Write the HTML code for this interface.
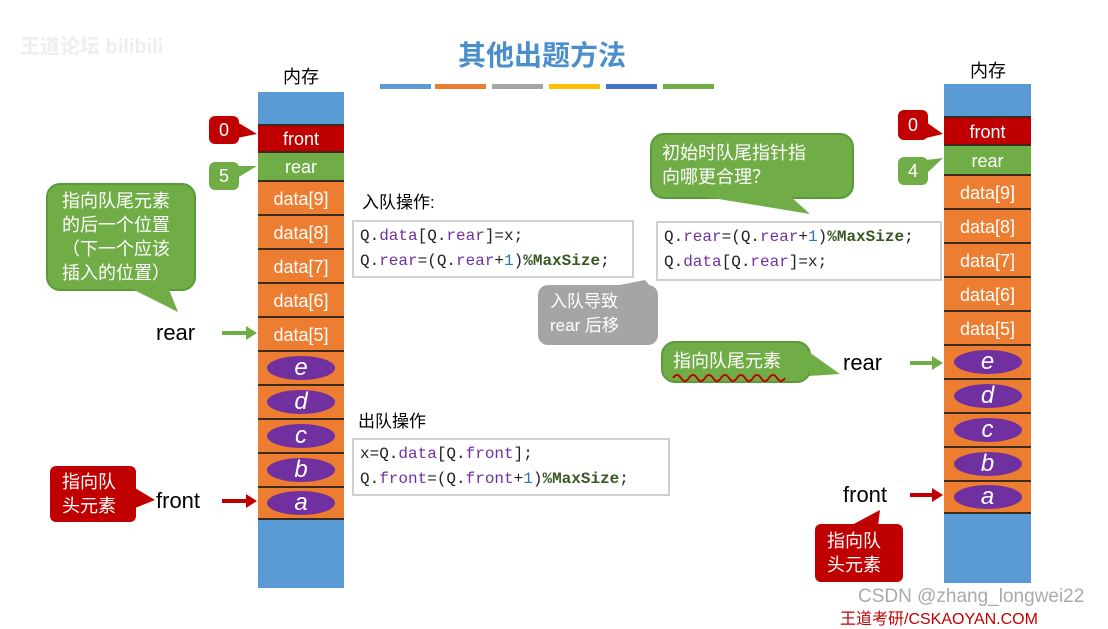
<!DOCTYPE html>
<html><head><meta charset="utf-8"><style>
body{margin:0;width:1108px;height:618px;background:#fff;position:relative;overflow:hidden;font-family:"Liberation Sans","Noto Sans CJK SC",sans-serif}
.a{position:absolute}
.c{position:absolute;box-sizing:border-box;border-bottom:2px solid #3a2a20;color:#fff;font-size:18px;text-align:center}
.bl{background:#5b9bd5}.fr{background:#c00000}.rr{background:#70ad47}.or{background:#ed7d31}
.el{position:absolute;left:50%;top:50%;width:68px;height:24px;margin:-12px 0 0 -34px;border-radius:50%;background:#7030a0;color:#fff;font-style:italic;font-size:24px;line-height:24px}
.code{position:absolute;border:2px solid #d0d0d0;background:#fff;font-family:"Liberation Mono",monospace;font-size:16px;line-height:25px;padding:2px 6px;color:#222;white-space:pre}
.p{color:#7030a0}.b{color:#2e75b6}.g{color:#385723;font-weight:bold}
.gb{position:absolute;background:#70ad47;border:2px solid #5a9a3a;border-radius:14px;color:#fff;font-size:18px;line-height:24px}
.tag{position:absolute;border-radius:6px;color:#fff;font-size:18px;text-align:center}
</style></head><body>
<div class="a" style="left:20px;top:30px;color:#eee;font-size:20px;font-weight:bold">王道论坛 bilibili</div>
<div class="a" style="left:458px;top:34px;color:#4a8fcc;font-size:28px;font-weight:bold">其他出题方法</div>
<div class="a" style="left:380px;top:84px;width:51px;height:5px;background:#5b9bd5"></div>
<div class="a" style="left:435px;top:84px;width:51px;height:5px;background:#ed7d31"></div>
<div class="a" style="left:492px;top:84px;width:51px;height:5px;background:#a5a5a5"></div>
<div class="a" style="left:549px;top:84px;width:51px;height:5px;background:#ffc000"></div>
<div class="a" style="left:606px;top:84px;width:51px;height:5px;background:#4472c4"></div>
<div class="a" style="left:663px;top:84px;width:51px;height:5px;background:#70ad47"></div>

<!-- left column -->
<div class="a" style="left:283px;top:63px;font-size:18px">内存</div>
<div class="c bl" style="left:258px;top:92px;width:86px;height:34px"></div>
<div class="c fr" style="left:258px;top:126px;width:86px;height:27px;line-height:27px">front</div>
<div class="c rr" style="left:258px;top:153px;width:86px;height:29px;line-height:29px">rear</div>
<div class="c or" style="left:258px;top:182px;width:86px;height:34px;line-height:34px">data[9]</div>
<div class="c or" style="left:258px;top:216px;width:86px;height:34px;line-height:34px">data[8]</div>
<div class="c or" style="left:258px;top:250px;width:86px;height:34px;line-height:34px">data[7]</div>
<div class="c or" style="left:258px;top:284px;width:86px;height:34px;line-height:34px">data[6]</div>
<div class="c or" style="left:258px;top:318px;width:86px;height:34px;line-height:34px">data[5]</div>
<div class="c or" style="left:258px;top:352px;width:86px;height:34px"><div class="el">e</div></div>
<div class="c or" style="left:258px;top:386px;width:86px;height:34px"><div class="el">d</div></div>
<div class="c or" style="left:258px;top:420px;width:86px;height:34px"><div class="el">c</div></div>
<div class="c or" style="left:258px;top:454px;width:86px;height:34px"><div class="el">b</div></div>
<div class="c or" style="left:258px;top:488px;width:86px;height:32px"><div class="el">a</div></div>
<div class="c bl" style="left:258px;top:520px;width:86px;height:68px;border:none"></div>
<div class="tag" style="left:209px;top:116px;width:30px;height:28px;line-height:28px;background:#c00000">0</div>
<div class="tag" style="left:209px;top:162px;width:30px;height:28px;line-height:28px;background:#70ad47">5</div>
<div class="gb" style="left:46px;top:183px;width:150px;height:108px;padding:4px 0 0 14px;box-sizing:border-box">指向队尾元素<br>的后一个位置<br>（下一个应该<br>插入的位置）</div>
<div class="a" style="left:156px;top:320px;font-size:22px">rear</div>
<div class="tag" style="left:50px;top:466px;width:86px;height:56px;background:#c00000;line-height:24px;padding-top:4px;box-sizing:border-box;text-align:left;padding-left:12px">指向队<br>头元素</div>
<div class="a" style="left:156px;top:488px;font-size:22px">front</div>

<div class="a" style="left:362px;top:188px;font-size:17px">入队操作:</div>
<div class="code" style="left:352px;top:220px;width:266px;height:50px"><span>Q.</span><span class="p">data</span>[Q.<span class="p">rear</span>]=x;
Q.<span class="p">rear</span>=(Q.<span class="p">rear</span>+<span class="b">1</span>)<span class="g">%MaxSize</span>;</div>
<div class="a" style="left:358px;top:407px;font-size:17px">出队操作</div>
<div class="code" style="left:352px;top:438px;width:302px;height:50px">x=Q.<span class="p">data</span>[Q.<span class="p">front</span>];
Q.<span class="p">front</span>=(Q.<span class="p">front</span>+<span class="b">1</span>)<span class="g">%MaxSize</span>;</div>

<div class="gb" style="left:650px;top:133px;width:204px;height:66px;padding:6px 0 0 10px;box-sizing:border-box">初始时队尾指针指<br>向哪更合理？</div>
<div class="code" style="left:656px;top:221px;width:270px;height:52px">Q.<span class="p">rear</span>=(Q.<span class="p">rear</span>+<span class="b">1</span>)<span class="g">%MaxSize</span>;
Q.<span class="p">data</span>[Q.<span class="p">rear</span>]=x;</div>
<div class="a" style="left:538px;top:285px;width:120px;height:60px;background:#a5a5a5;border-radius:10px;color:#fff;font-size:17px;line-height:24px;padding:5px 0 0 12px;box-sizing:border-box">入队导致<br>rear 后移</div>
<div class="gb" style="left:661px;top:341px;width:150px;height:42px;padding:6px 0 0 10px;box-sizing:border-box">指向队尾元素</div>
<div class="a" style="left:843px;top:350px;font-size:22px">rear</div>
<div class="a" style="left:843px;top:482px;font-size:22px">front</div>
<div class="tag" style="left:815px;top:524px;width:88px;height:58px;background:#c00000;line-height:24px;padding:5px 0 0 12px;box-sizing:border-box;text-align:left">指向队<br>头元素</div>

<!-- right column -->
<div class="a" style="left:970px;top:57px;font-size:18px">内存</div>
<div class="c bl" style="left:944px;top:84px;width:87px;height:34px"></div>
<div class="c fr" style="left:944px;top:118px;width:87px;height:28px;line-height:28px">front</div>
<div class="c rr" style="left:944px;top:146px;width:87px;height:30px;line-height:30px">rear</div>
<div class="c or" style="left:944px;top:176px;width:87px;height:34px;line-height:34px">data[9]</div>
<div class="c or" style="left:944px;top:210px;width:87px;height:34px;line-height:34px">data[8]</div>
<div class="c or" style="left:944px;top:244px;width:87px;height:34px;line-height:34px">data[7]</div>
<div class="c or" style="left:944px;top:278px;width:87px;height:34px;line-height:34px">data[6]</div>
<div class="c or" style="left:944px;top:312px;width:87px;height:34px;line-height:34px">data[5]</div>
<div class="c or" style="left:944px;top:346px;width:87px;height:34px"><div class="el">e</div></div>
<div class="c or" style="left:944px;top:380px;width:87px;height:34px"><div class="el">d</div></div>
<div class="c or" style="left:944px;top:414px;width:87px;height:34px"><div class="el">c</div></div>
<div class="c or" style="left:944px;top:448px;width:87px;height:34px"><div class="el">b</div></div>
<div class="c or" style="left:944px;top:482px;width:87px;height:32px"><div class="el">a</div></div>
<div class="c bl" style="left:944px;top:514px;width:87px;height:69px;border:none"></div>
<div class="tag" style="left:898px;top:110px;width:30px;height:30px;line-height:30px;background:#c00000">0</div>
<div class="tag" style="left:898px;top:157px;width:30px;height:28px;line-height:28px;background:#70ad47">4</div>

<svg class="a" style="left:0;top:0" width="1108" height="618">
<polygon points="237,122 257,134 237,138" fill="#c00000"/>
<polygon points="237,166 257,166 237,178" fill="#70ad47"/>
<polygon points="128,287 168,287 178,312" fill="#70ad47"/>
<polygon points="926,122 943,134 926,138" fill="#c00000"/>
<polygon points="926,160 943,158 926,174" fill="#70ad47"/>
<polygon points="700,196 790,196 810,214" fill="#70ad47"/>
<polygon points="610,287 645,280 655,292" fill="#a5a5a5"/>
<polygon points="809,352 809,376 840,374" fill="#70ad47"/>
<polygon points="135,488 135,508 155,500" fill="#c00000"/>
<polygon points="850,526 878,526 880,510" fill="#c00000"/>
<path d="M222 333 H248" stroke="#70ad47" stroke-width="4"/><polygon points="246,326 257,333 246,340" fill="#70ad47"/>
<path d="M222 501 H248" stroke="#c00000" stroke-width="4"/><polygon points="246,494 257,501 246,508" fill="#c00000"/>
<path d="M910 363 H934" stroke="#70ad47" stroke-width="4"/><polygon points="932,356 943,363 932,370" fill="#70ad47"/>
<path d="M910 495 H934" stroke="#c00000" stroke-width="4"/><polygon points="932,488 943,495 932,502" fill="#c00000"/>
<path d="M673 378 q4 -6 8 0 t8 0 t8 0 t8 0 t8 0 t8 0 t8 0 t8 0 t8 0 t8 0 t8 0 t8 0 t8 0 t8 0" stroke="#c00000" stroke-width="2" fill="none"/>
</svg>

<div class="a" style="left:858px;top:586px;font-size:19px;color:#aaa">CSDN @zhang_longwei22</div>
<div class="a" style="left:840px;top:605px;font-size:16px;color:#c00000">王道考研/CSKAOYAN.COM</div>
</body></html>
